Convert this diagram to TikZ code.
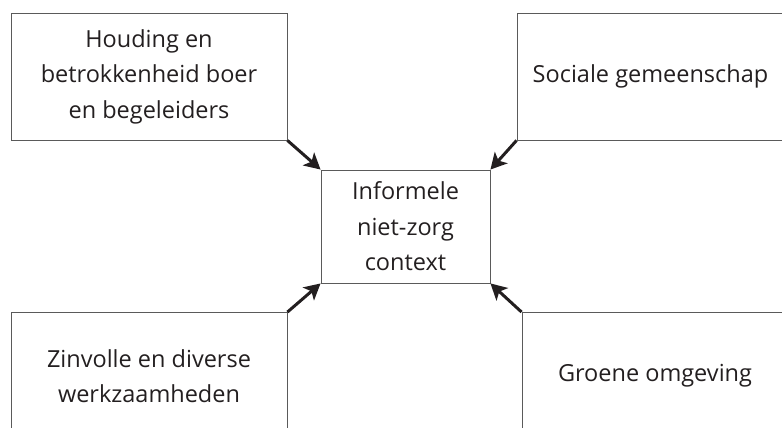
\documentclass[tikz,border=0pt]{standalone}
\usepackage{xcolor}
\usepackage{fontspec}
\setmainfont{Open Sans}
\usepackage{tikz}
\usetikzlibrary{arrows.meta, positioning}
\definecolor{boxline}{HTML}{5A5A5A}
\definecolor{ink}{HTML}{231F20}

\begin{document}
\begin{tikzpicture}[x=1pt, y=1pt,
				>={Stealth[length=16pt, width=17pt, inset=4pt]},
				factor/.style={draw=boxline, line width=0.9pt, inner sep=0pt,
					text=ink, align=center,
					font=\fontsize{23.5}{35.5}\selectfont},
				link/.style={->, ink, line width=3pt}]
				\clip (0,0) rectangle (782,428);
				\node at (149,351.5) (houding) [factor, minimum width=276pt, minimum height=127pt] {Houding en\\ betrokkenheid boer\\ en begeleiders};
				\node at (650.5,351.5) (sociaal) [factor, minimum width=267pt, minimum height=127pt] {Sociale gemeenschap};
				\node at (405.5,201.5) (context) [factor, minimum width=169pt, minimum height=113pt] {Informele\\ niet-zorg\\ context};
				\node at (149,52) (werk) [factor, minimum width=276pt, minimum height=127pt] {Zinvolle en diverse\\ werkzaamheden};
				\node at (655,52) (groen) [factor, minimum width=266pt, minimum height=127pt] {Groene omgeving};
				\draw[link] (houding.south east) -- (context.north west);
				\draw[link] (sociaal.south west) -- (context.north east);
				\draw[link] (werk.north east) -- (context.south west);
				\draw[link] (groen.north west) -- (context.south east);
			\end{tikzpicture}
\end{document}
